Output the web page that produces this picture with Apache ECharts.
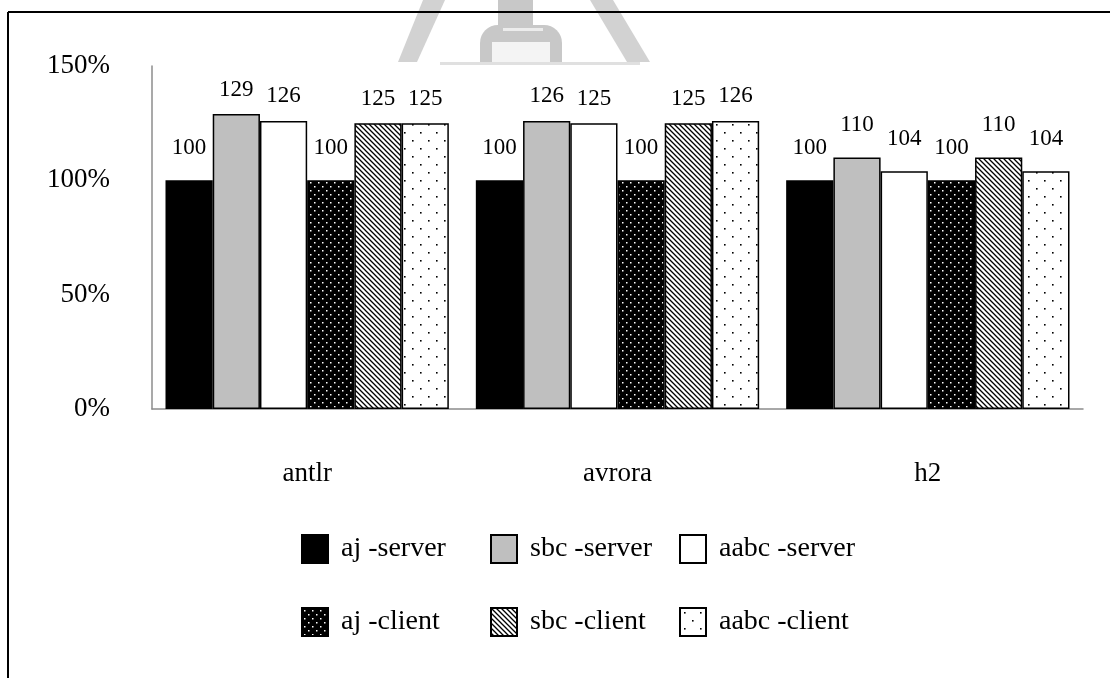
<!DOCTYPE html>
<html>
<head>
<meta charset="utf-8">
<script src="https://cdn.jsdelivr.net/npm/echarts@6/dist/echarts.min.js"></script>
<style>
html,body{margin:0;padding:0;background:#fff;}
#chart{width:1110px;height:678px;}
</style>
</head>
<body>
<div id="chart"></div>
<script>
var categories = ['antlr', 'avrora', 'h2'];
var seriesNames = ['aj -server', 'sbc -server', 'aabc -server', 'aj -client', 'sbc -client', 'aabc -client'];
var ajServer = [100, 100, 100];
var sbcServer = [129, 126, 110];
var aabcServer = [126, 125, 104];
var ajClient = [100, 100, 100];
var sbcClient = [125, 125, 110];
var aabcClient = [125, 126, 104];
var yTicks = [0, 50, 100, 150];

function makeTile(w, h, bg, draw) {
  var c = document.createElement('canvas');
  c.width = w; c.height = h;
  var ctx = c.getContext('2d');
  ctx.fillStyle = bg; ctx.fillRect(0, 0, w, h);
  draw(ctx);
  return {image: c, repeat: 'repeat'};
}
var patAjClient = makeTile(8, 8, '#000', function (ctx) {
  ctx.fillStyle = '#fff';
  ctx.fillRect(2, 2, 1.5, 1.5);
  ctx.fillRect(6, 6, 1.5, 1.5);
});
var patSbcClient = makeTile(5, 5, '#fff', function (ctx) {
  ctx.strokeStyle = '#000'; ctx.lineWidth = 1.3;
  ctx.beginPath();
  ctx.moveTo(-1, -1); ctx.lineTo(6, 6);
  ctx.moveTo(-1, 4); ctx.lineTo(1, 6);
  ctx.moveTo(4, -1); ctx.lineTo(6, 1);
  ctx.stroke();
});
var patAabcClient = makeTile(16, 16, '#fff', function (ctx) {
  ctx.fillStyle = '#000';
  ctx.fillRect(4, 4, 1.6, 1.6);
  ctx.fillRect(12, 12, 1.6, 1.6);
});

var fills = ['#000000', '#bfbfbf', '#ffffff', patAjClient, patSbcClient, patAabcClient];
var values = [ajServer, sbcServer, aabcServer, ajClient, sbcClient, aabcClient];
var font = '"Liberation Serif", "Times New Roman", serif';

var series = seriesNames.map(function (name, i) {
  return {
    name: name,
    type: 'bar',
    data: values[i].map(function (v) {
      return {value: v, label: {distance: v >= 120 ? 13 : 21}};
    }),
    barGap: '0%',
    barCategoryGap: '8.7%',
    itemStyle: {color: fills[i], borderColor: '#000', borderWidth: 1.5},
    label: {
      show: true, position: 'top',
      fontFamily: font, fontSize: 23, color: '#000'
    },
    emphasis: {disabled: true}
  };
});

var legendLefts = [301, 490, 679];
var legendTops = [534, 607];
var legends = seriesNames.map(function (name, i) {
  return {
    data: [name],
    left: legendLefts[i % 3], top: legendTops[Math.floor(i / 3)],
    padding: 0,
    itemWidth: 26, itemHeight: 28, icon: 'rect',
    textStyle: {fontFamily: font, fontSize: 28, lineHeight: 28, color: '#000', padding: [0, 0, 0, 8]},
    selectedMode: false
  };
});

var chart = echarts.init(document.getElementById('chart'), null, {renderer: 'canvas'});
chart.setOption({
  animation: false,
  backgroundColor: '#fff',
  grid: {left: 152, right: 27, top: 66, bottom: 269, containLabel: false},
  xAxis: {
    type: 'category',
    data: categories,
    axisLine: {lineStyle: {color: '#8c8c8c', width: 1.5}},
    axisTick: {show: false},
    axisLabel: {fontFamily: font, fontSize: 27, color: '#000', margin: 51}
  },
  yAxis: {
    type: 'value',
    min: yTicks[0], max: yTicks[yTicks.length - 1], interval: 50,
    axisLine: {show: true, lineStyle: {color: '#8c8c8c', width: 1.5}},
    axisTick: {show: false},
    splitLine: {show: false},
    axisLabel: {formatter: '{value}%', fontFamily: font, fontSize: 27, color: '#000', margin: 42}
  },
  legend: legends,
  graphic: [
    {type: 'polygon', shape: {points: [[423, 0], [445, 0], [417, 62], [398, 62]]}, style: {fill: '#d2d2d2'}, z: -1},
    {type: 'polygon', shape: {points: [[590, 0], [613, 0], [650, 62], [627, 62]]}, style: {fill: '#d2d2d2'}, z: -1},
    {type: 'rect', shape: {x: 498, y: 0, width: 35, height: 30}, style: {fill: '#c8c8c8'}, z: -1},
    {type: 'rect', shape: {x: 480, y: 25, width: 82, height: 40, r: [18, 18, 0, 0]}, style: {fill: '#c8c8c8'}, z: -1},
    {type: 'rect', shape: {x: 503, y: 28, width: 40, height: 3}, style: {fill: '#ececec'}, z: -1},
    {type: 'rect', shape: {x: 492, y: 42, width: 58, height: 23}, style: {fill: '#f4f4f4'}, z: -1},
    {type: 'rect', shape: {x: 440, y: 62, width: 200, height: 3}, style: {fill: '#e0e0e0'}, z: -1},
    {type: 'line', shape: {x1: 8, y1: 12, x2: 1110, y2: 12}, style: {stroke: '#000', lineWidth: 2}},
    {type: 'line', shape: {x1: 8, y1: 12, x2: 8, y2: 678}, style: {stroke: '#000', lineWidth: 2}}
  ],
  series: series
});
</script>
</body>
</html>
